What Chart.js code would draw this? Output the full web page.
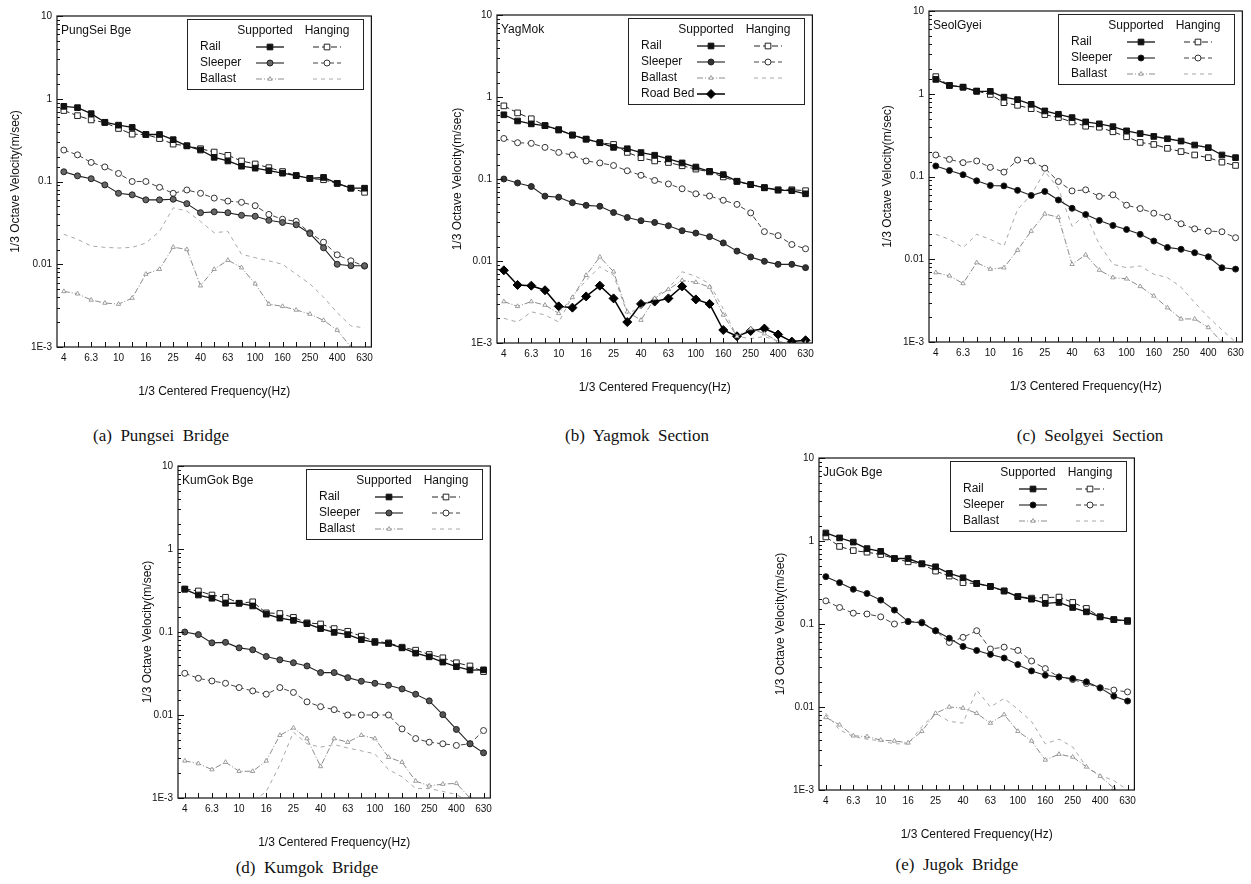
<!DOCTYPE html>
<html>
<head>
<meta charset="utf-8">
<title>1/3 Octave Velocity - Supported vs Hanging</title>
<script src="https://cdn.jsdelivr.net/npm/chart.js@4.4.1/dist/chart.umd.min.js"></script>
<style>
  body { margin: 0; background: #fff; }
  #page { position: relative; width: 1251px; height: 884px; overflow: hidden; background: #fff; }
  .caption {
    position: absolute; white-space: pre; transform: translateX(-50%);
    font-family: "Liberation Serif", "Times New Roman", serif; font-size: 17px; color: #111;
  }
</style>
</head>
<body>
<div id="page"></div>
<script>
// 1/3 octave centre frequencies (Hz)
const BANDS = ['4', '5', '6.3', '8', '10', '12.5', '16', '20', '25', '31.5', '40', '50',
  '63', '80', '100', '125', '160', '200', '250', '315', '400', '500', '630'];

// (a) PungSei bridge
const PS_RAIL_SUP = [0.81, 0.78, 0.66, 0.52, 0.48, 0.45, 0.37, 0.37, 0.32, 0.27, 0.24, 0.196, 0.177, 0.153, 0.145, 0.135, 0.126, 0.118, 0.109, 0.112, 0.095, 0.083, 0.083];
const PS_RAIL_HANG = [0.72, 0.625, 0.555, 0.515, 0.437, 0.373, 0.37, 0.33, 0.283, 0.27, 0.249, 0.227, 0.207, 0.177, 0.163, 0.147, 0.132, 0.118, 0.109, 0.105, 0.095, 0.083, 0.074];
const PS_SLP_SUP = [0.131, 0.117, 0.108, 0.091, 0.072, 0.069, 0.06, 0.06, 0.061, 0.054, 0.042, 0.043, 0.042, 0.039, 0.038, 0.034, 0.032, 0.03, 0.0235, 0.0158, 0.01, 0.0096, 0.0096];
const PS_SLP_HANG = [0.24, 0.21, 0.17, 0.15, 0.125, 0.1, 0.1, 0.085, 0.072, 0.079, 0.072, 0.063, 0.058, 0.056, 0.051, 0.04, 0.035, 0.033, 0.024, 0.0185, 0.013, 0.011, 0.0095];
const PS_BAL_SUP = [0.0047, 0.0044, 0.0037, 0.0034, 0.0033, 0.0039, 0.0076, 0.0087, 0.0161, 0.0151, 0.0055, 0.0087, 0.0112, 0.0091, 0.0058, 0.0033, 0.0031, 0.0028, 0.0025, 0.0021, 0.0016, 0.001, 0.0008];
const PS_BAL_HANG = [0.023, 0.02, 0.0166, 0.016, 0.0157, 0.016, 0.018, 0.025, 0.048, 0.044, 0.033, 0.024, 0.025, 0.0132, 0.012, 0.011, 0.01, 0.0076, 0.0058, 0.004, 0.0026, 0.0018, 0.0017];

// (b) YagMok section
const YM_RAIL_SUP = [0.607, 0.51, 0.47, 0.448, 0.4, 0.342, 0.306, 0.277, 0.243, 0.234, 0.21, 0.195, 0.176, 0.157, 0.14, 0.124, 0.113, 0.094, 0.0855, 0.078, 0.073, 0.072, 0.066];
const YM_RAIL_HANG = [0.78, 0.64, 0.543, 0.448, 0.395, 0.345, 0.306, 0.277, 0.264, 0.211, 0.182, 0.166, 0.159, 0.145, 0.132, 0.122, 0.106, 0.093, 0.0855, 0.079, 0.074, 0.074, 0.072];
const YM_SLP_SUP = [0.1, 0.0895, 0.081, 0.0618, 0.06, 0.0514, 0.0477, 0.0465, 0.039, 0.0339, 0.031, 0.0295, 0.0269, 0.0234, 0.0219, 0.0198, 0.0166, 0.0132, 0.0112, 0.0099, 0.0091, 0.0091, 0.0083];
const YM_SLP_HANG = [0.312, 0.277, 0.272, 0.243, 0.211, 0.196, 0.166, 0.157, 0.146, 0.126, 0.111, 0.096, 0.087, 0.076, 0.066, 0.062, 0.055, 0.049, 0.0386, 0.0228, 0.0204, 0.0159, 0.0141];
const YM_BAL_SUP = [0.0032, 0.0028, 0.0032, 0.0029, 0.0023, 0.0036, 0.0067, 0.0112, 0.0074, 0.0024, 0.0019, 0.0035, 0.0045, 0.0058, 0.0055, 0.0048, 0.0022, 0.0012, 0.0015, 0.0013, 0.00105, 0.00095, 0.001];
const YM_BAL_HANG = [0.002, 0.0018, 0.0024, 0.0022, 0.0018, 0.0037, 0.0058, 0.0085, 0.0067, 0.0023, 0.0027, 0.0037, 0.0046, 0.0074, 0.0065, 0.0053, 0.0026, 0.0012, 0.00113, 0.0012, 0.00105, 0.00095, 0.001];
const YM_ROAD_BED = [0.0077, 0.0051, 0.005, 0.0044, 0.0028, 0.0027, 0.0037, 0.005, 0.0035, 0.0018, 0.003, 0.0032, 0.0035, 0.0049, 0.0034, 0.003, 0.00144, 0.00121, 0.0014, 0.0015, 0.00127, 0.00104, 0.00108];

// (c) SeolGyei section
const SG_RAIL_SUP = [1.49, 1.26, 1.2, 1.07, 1.07, 0.91, 0.85, 0.745, 0.62, 0.565, 0.515, 0.457, 0.433, 0.4, 0.356, 0.33, 0.305, 0.286, 0.268, 0.24, 0.223, 0.182, 0.169];
const SG_RAIL_HANG = [1.61, 1.26, 1.2, 1.08, 0.98, 0.78, 0.725, 0.66, 0.56, 0.515, 0.457, 0.405, 0.394, 0.347, 0.302, 0.258, 0.244, 0.219, 0.2, 0.182, 0.169, 0.149, 0.136];
const SG_SLP_SUP = [0.134, 0.118, 0.105, 0.0887, 0.078, 0.077, 0.068, 0.059, 0.066, 0.052, 0.0413, 0.0347, 0.0294, 0.0256, 0.0229, 0.02, 0.0166, 0.0139, 0.0132, 0.012, 0.0107, 0.0079, 0.0076];
const SG_SLP_HANG = [0.182, 0.161, 0.147, 0.154, 0.129, 0.113, 0.158, 0.154, 0.126, 0.087, 0.067, 0.069, 0.0575, 0.06, 0.045, 0.041, 0.036, 0.0325, 0.0268, 0.0233, 0.0219, 0.0215, 0.0182];
const SG_BAL_SUP = [0.0069, 0.0063, 0.0051, 0.0091, 0.0076, 0.0079, 0.0129, 0.0219, 0.0353, 0.0322, 0.0087, 0.0113, 0.0074, 0.006, 0.0058, 0.0047, 0.0036, 0.0026, 0.0019, 0.0019, 0.0015, 0.001, 0.0007];
const SG_BAL_HANG = [0.02, 0.0174, 0.0138, 0.02, 0.0174, 0.0145, 0.04, 0.06, 0.115, 0.072, 0.025, 0.035, 0.0151, 0.0087, 0.0079, 0.0083, 0.0066, 0.006, 0.0046, 0.003, 0.002, 0.0014, 0.001];

// (d) KumGok bridge
const KG_RAIL_SUP = [0.327, 0.279, 0.255, 0.222, 0.222, 0.206, 0.164, 0.147, 0.138, 0.126, 0.11, 0.099, 0.093, 0.081, 0.075, 0.0726, 0.0644, 0.0556, 0.0502, 0.0434, 0.0382, 0.0348, 0.035];
const KG_RAIL_HANG = [0.33, 0.312, 0.279, 0.262, 0.222, 0.231, 0.17, 0.167, 0.15, 0.129, 0.125, 0.11, 0.102, 0.089, 0.077, 0.074, 0.0656, 0.0604, 0.0536, 0.0489, 0.0426, 0.039, 0.0333];
const KG_SLP_SUP = [0.1, 0.093, 0.074, 0.075, 0.0644, 0.061, 0.0507, 0.0462, 0.0426, 0.039, 0.0324, 0.0324, 0.0282, 0.0255, 0.0241, 0.0228, 0.0206, 0.0178, 0.0148, 0.0101, 0.0067, 0.0045, 0.0035];
const KG_SLP_HANG = [0.0318, 0.0277, 0.0257, 0.0241, 0.0214, 0.0195, 0.0178, 0.0214, 0.0187, 0.0144, 0.0126, 0.0116, 0.01, 0.01, 0.01, 0.01, 0.0068, 0.0052, 0.0047, 0.0045, 0.0043, 0.0045, 0.0065];
const KG_BAL_SUP = [0.0028, 0.0026, 0.0022, 0.0027, 0.0021, 0.0021, 0.0028, 0.0057, 0.007, 0.0052, 0.0024, 0.0052, 0.0047, 0.0057, 0.0052, 0.0031, 0.0027, 0.0016, 0.0014, 0.00147, 0.0015, 0.001, 0.0008];
const KG_BAL_HANG = [0.0008, 0.0008, 0.0009, 0.0009, 0.0008, 0.0009, 0.0012, 0.0025, 0.0062, 0.0045, 0.0041, 0.0044, 0.004, 0.0037, 0.0034, 0.0022, 0.0018, 0.0013, 0.0013, 0.0012, 0.0011, 0.0009, 0.0008];

// (e) JuGok bridge
const JG_RAIL_SUP = [1.25, 1.09, 0.97, 0.81, 0.75, 0.615, 0.615, 0.531, 0.489, 0.407, 0.361, 0.309, 0.284, 0.25, 0.214, 0.199, 0.177, 0.182, 0.158, 0.14, 0.122, 0.113, 0.11];
const JG_RAIL_HANG = [1.12, 0.86, 0.766, 0.733, 0.687, 0.615, 0.561, 0.531, 0.434, 0.378, 0.315, 0.306, 0.282, 0.25, 0.214, 0.205, 0.208, 0.211, 0.182, 0.154, 0.122, 0.113, 0.107];
const JG_SLP_SUP = [0.372, 0.315, 0.262, 0.233, 0.194, 0.147, 0.107, 0.103, 0.083, 0.0675, 0.0536, 0.048, 0.043, 0.0389, 0.0324, 0.0272, 0.0241, 0.023, 0.022, 0.0201, 0.017, 0.0135, 0.0118];
const JG_SLP_HANG = [0.19, 0.158, 0.135, 0.132, 0.122, 0.1, 0.107, 0.105, 0.083, 0.06, 0.069, 0.083, 0.05, 0.0526, 0.0481, 0.0358, 0.029, 0.023, 0.0214, 0.0192, 0.017, 0.016, 0.0152];
const JG_BAL_SUP = [0.0075, 0.0061, 0.0045, 0.0044, 0.004, 0.0039, 0.0037, 0.0051, 0.0084, 0.01, 0.0097, 0.0084, 0.0064, 0.0081, 0.0051, 0.0039, 0.0023, 0.0027, 0.0025, 0.0019, 0.00147, 0.00105, 0.0008];
const JG_BAL_HANG = [0.0084, 0.0053, 0.0044, 0.0041, 0.0039, 0.0036, 0.0036, 0.0058, 0.0084, 0.0067, 0.0064, 0.016, 0.01, 0.0127, 0.0094, 0.0067, 0.0036, 0.0041, 0.0033, 0.0019, 0.0015, 0.0013, 0.001];

const FONT = '"Liberation Sans", Arial, sans-serif';
const INK = '#111';

// line/marker styles shared by every panel
const STYLE = {
  railSup: { borderColor: '#111', borderWidth: 1.3, pointStyle: 'rect', pointRadius: 4, pointBackgroundColor: '#111', pointBorderColor: '#111', pointBorderWidth: 1 },
  railHang: { borderColor: '#222', borderWidth: 1, borderDash: [6, 3], pointStyle: 'rect', pointRadius: 4, pointBackgroundColor: '#fff', pointBorderColor: '#222', pointBorderWidth: 1 },
  slpSup: { borderColor: '#222', borderWidth: 1.1, pointStyle: 'circle', pointRadius: 3, pointBackgroundColor: '#555', pointBorderColor: '#222', pointBorderWidth: 1 },
  slpHang: { borderColor: '#444', borderWidth: 1, borderDash: [5, 3], pointStyle: 'circle', pointRadius: 3, pointBackgroundColor: '#fff', pointBorderColor: '#333', pointBorderWidth: 1 },
  balSup: { borderColor: '#8c8c8c', borderWidth: 1, borderDash: [6, 2, 1, 2], pointStyle: 'triangle', pointRadius: 2.5, pointBackgroundColor: '#fff', pointBorderColor: '#888', pointBorderWidth: 0.8 },
  balHang: { borderColor: '#a8a8a8', borderWidth: 1, borderDash: [4, 4], pointRadius: 0 },
  roadBed: { borderColor: '#000', borderWidth: 1.5, pointStyle: 'rectRot', pointRadius: 4.5, pointBackgroundColor: '#000', pointBorderColor: '#000', pointBorderWidth: 1 }
};

function series(label, data, style, extra) {
  return Object.assign({ label, data, fill: false, tension: 0, pointHoverRadius: 0 }, style, extra || {});
}

function isDecade(v) {
  const e = Math.log10(v);
  return Math.abs(e - Math.round(e)) < 1e-6;
}

function marker(ctx, ds, x, y) {
  if (!ds.pointRadius) return;
  ctx.save();
  ctx.setLineDash([]);
  ctx.fillStyle = ds.pointBackgroundColor;
  ctx.strokeStyle = ds.pointBorderColor;
  ctx.lineWidth = ds.pointBorderWidth;
  Chart.helpers.drawPoint(ctx, { pointStyle: ds.pointStyle, radius: ds.pointRadius, rotation: 0, borderWidth: ds.pointBorderWidth }, x, y);
  ctx.restore();
}

function sample(ctx, ds, cx, cy) {
  ctx.save();
  ctx.strokeStyle = ds.borderColor;
  ctx.lineWidth = ds.borderWidth;
  ctx.setLineDash(ds.borderDash || []);
  ctx.beginPath();
  ctx.moveTo(cx - 14, cy);
  ctx.lineTo(cx + 14, cy);
  ctx.stroke();
  ctx.restore();
  marker(ctx, ds, cx, cy);
}

// plot frame with inward tick marks
const framePlugin = {
  id: 'frame',
  afterDatasetsDraw(chart) {
    const { ctx, chartArea: a, scales: { x, y } } = chart;
    ctx.save();
    ctx.strokeStyle = INK;
    ctx.lineWidth = 1.2;
    ctx.strokeRect(a.left, a.top, a.right - a.left, a.bottom - a.top);
    ctx.lineWidth = 1;
    ctx.beginPath();
    for (let i = 0; i < BANDS.length; i++) {
      const px = Math.round(x.getPixelForTick(i)) + 0.5;
      ctx.moveTo(px, a.bottom);
      ctx.lineTo(px, a.bottom - 5);
    }
    y.ticks.forEach(t => {
      const py = Math.round(y.getPixelForValue(t.value)) + 0.5;
      const len = isDecade(t.value) ? 6 : 3;
      ctx.moveTo(a.left, py);
      ctx.lineTo(a.left + len, py);
    });
    ctx.stroke();
    ctx.restore();
  }
};

// two-column legend: Supported / Hanging
const legendPlugin = {
  id: 'legendBox',
  afterDraw(chart, args, opts) {
    const { ctx, chartArea: a } = chart;
    const rows = opts.rows || [];
    const w = 176, h = 22 + rows.length * 16;
    const left = Math.round(a.right - 8 - w), top = Math.round(a.top + 3);
    ctx.save();
    ctx.fillStyle = '#fff';
    ctx.fillRect(left, top, w, h);
    ctx.strokeStyle = '#222';
    ctx.lineWidth = 1;
    ctx.strokeRect(left + 0.5, top + 0.5, w, h);
    ctx.font = '12px ' + FONT;
    ctx.fillStyle = INK;
    ctx.textBaseline = 'middle';
    ctx.textAlign = 'center';
    ctx.fillText('Supported', left + 78, top + 12);
    ctx.fillText('Hanging', left + 140, top + 12);
    ctx.restore();
    rows.forEach((r, k) => {
      const yy = top + 28 + k * 16;
      ctx.save();
      ctx.font = '12px ' + FONT;
      ctx.fillStyle = INK;
      ctx.textBaseline = 'middle';
      ctx.textAlign = 'left';
      ctx.fillText(r.label, left + 13, yy);
      ctx.restore();
      sample(ctx, chart.data.datasets[r.sup], left + 83, yy);
      if (r.hang != null) sample(ctx, chart.data.datasets[r.hang], left + 140, yy);
    });
  }
};

// site name in the top-left corner of the plot
const namePlugin = {
  id: 'siteName',
  afterDraw(chart, args, opts) {
    const { ctx, chartArea: a } = chart;
    ctx.save();
    ctx.font = '12px ' + FONT;
    ctx.fillStyle = INK;
    ctx.textBaseline = 'middle';
    ctx.fillText(opts.text, a.left + 4, a.top + 15);
    ctx.restore();
  }
};

const BASE_ROWS = [
  { label: 'Rail', sup: 0, hang: 1 },
  { label: 'Sleeper', sup: 2, hang: 3 },
  { label: 'Ballast', sup: 4, hang: 5 }
];

function std(rs, rh, ss, sh, bs, bh, sleeperFill) {
  return [
    series('Rail supported', rs, STYLE.railSup),
    series('Rail hanging', rh, STYLE.railHang),
    series('Sleeper supported', ss, STYLE.slpSup, { pointBackgroundColor: sleeperFill }),
    series('Sleeper hanging', sh, STYLE.slpHang),
    series('Ballast supported', bs, STYLE.balSup),
    series('Ballast hanging', bh, STYLE.balHang)
  ];
}

const panels = [
  { L: 57, R: 374, T: 13, B: 347, yw: 53, name: 'PungSei Bge', caption: '(a)  Pungsei  Bridge', cx: 161, cy: 426,
    datasets: std(PS_RAIL_SUP, PS_RAIL_HANG, PS_SLP_SUP, PS_SLP_HANG, PS_BAL_SUP, PS_BAL_HANG, '#666'), rows: BASE_ROWS },
  { L: 497, R: 815, T: 12, B: 343, yw: 51, name: 'YagMok', caption: '(b)  Yagmok  Section', cx: 637, cy: 426,
    datasets: std(YM_RAIL_SUP, YM_RAIL_HANG, YM_SLP_SUP, YM_SLP_HANG, YM_BAL_SUP, YM_BAL_HANG, '#333')
      .concat([series('Road Bed', YM_ROAD_BED, STYLE.roadBed)]),
    rows: BASE_ROWS.concat([{ label: 'Road Bed', sup: 6 }]) },
  { L: 929, R: 1245, T: 8, B: 342, yw: 53, name: 'SeolGyei', caption: '(c)  Seolgyei  Section', cx: 1090, cy: 426,
    datasets: std(SG_RAIL_SUP, SG_RAIL_HANG, SG_SLP_SUP, SG_SLP_HANG, SG_BAL_SUP, SG_BAL_HANG, '#000'), rows: BASE_ROWS },
  { L: 178, R: 493, T: 463, B: 798, yw: 42, name: 'KumGok Bge', caption: '(d)  Kumgok  Bridge', cx: 307, cy: 858,
    datasets: std(KG_RAIL_SUP, KG_RAIL_HANG, KG_SLP_SUP, KG_SLP_HANG, KG_BAL_SUP, KG_BAL_HANG, '#555'), rows: BASE_ROWS },
  { L: 819, R: 1137, T: 455, B: 790, yw: 50, name: 'JuGok Bge', caption: '(e)  Jugok  Bridge', cx: 957, cy: 855,
    datasets: std(JG_RAIL_SUP, JG_RAIL_HANG, JG_SLP_SUP, JG_SLP_HANG, JG_BAL_SUP, JG_BAL_HANG, '#000'), rows: BASE_ROWS }
];

const page = document.getElementById('page');
const XH = 54, PAD_TOP = 8, PAD_RIGHT = 4;

panels.forEach(p => {
  const canvas = document.createElement('canvas');
  const w = p.R - p.L + p.yw + PAD_RIGHT;
  const h = p.B - p.T + PAD_TOP + XH;
  canvas.width = w;
  canvas.height = h;
  canvas.style.cssText = `position:absolute;left:${p.L - p.yw}px;top:${p.T - PAD_TOP}px;width:${w}px;height:${h}px`;
  page.appendChild(canvas);

  new Chart(canvas, {
    type: 'line',
    data: { labels: BANDS, datasets: p.datasets },
    plugins: [framePlugin, legendPlugin, namePlugin],
    options: {
      responsive: false,
      animation: false,
      devicePixelRatio: 1,
      events: [],
      layout: { padding: { top: PAD_TOP, right: PAD_RIGHT, left: 0, bottom: 0 } },
      plugins: {
        legend: { display: false },
        tooltip: { enabled: false },
        legendBox: { rows: p.rows },
        siteName: { text: p.name }
      },
      scales: {
        x: {
          type: 'category',
          offset: true,
          grid: { display: false, drawTicks: false },
          border: { display: false },
          ticks: {
            autoSkip: false, maxRotation: 0, minRotation: 0, padding: 5,
            color: INK, font: { family: FONT, size: 10 },
            callback(v, i) { return i % 2 === 0 ? BANDS[i] : ''; }
          },
          title: {
            display: true, text: '1/3 Centered Frequency(Hz)', color: INK,
            font: { family: FONT, size: 12 }, padding: { top: 4, bottom: 2 }
          },
          afterFit(scale) { scale.height = XH; }
        },
        y: {
          type: 'logarithmic',
          min: 0.001,
          max: 10,
          grid: { display: false, drawTicks: false },
          border: { display: false },
          ticks: {
            autoSkip: false, padding: 5, color: INK, font: { family: FONT, size: 10 },
            callback(v) {
              if (!isDecade(v)) return '';
              const e = Math.round(Math.log10(v));
              return e === -3 ? '1E-3' : String(Number(Math.pow(10, e).toFixed(3)));
            }
          },
          title: {
            display: true, text: '1/3 Octave Velocity(m/sec)', color: INK,
            font: { family: FONT, size: 12 }, padding: { top: 4, bottom: 4 }
          },
          afterFit(scale) { scale.width = p.yw; }
        }
      }
    }
  });

  const cap = document.createElement('div');
  cap.className = 'caption';
  cap.textContent = p.caption;
  cap.style.left = p.cx + 'px';
  cap.style.top = p.cy + 'px';
  page.appendChild(cap);
});
</script>
</body>
</html>
